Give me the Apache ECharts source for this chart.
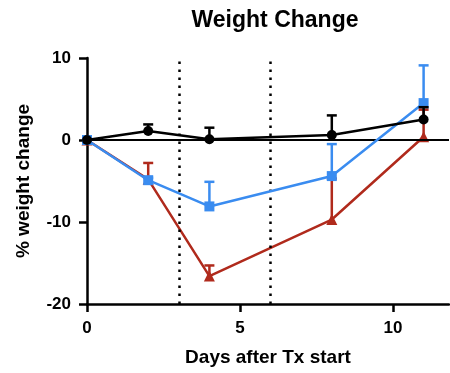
<!DOCTYPE html>
<html><head><meta charset="utf-8">
<script src="https://cdn.jsdelivr.net/npm/echarts@6/dist/echarts.min.js"></script>
<style>html,body{margin:0;padding:0;background:#fff}#c{width:450px;height:373px}</style>
</head><body><div id="c"></div>
<script>
var days = [0, 2, 4, 8, 11];
var blackMean = [0, 1.1, 0.1, 0.6, 2.5];
var blackErr  = [0, 0.8, 1.4, 2.4, 1.5];
var blueMean  = [0, -4.9, -8.1, -4.4, 4.5];
var blueErr   = [0, 0.3, 3.0, 3.9, 4.6];
var redMean   = [0, -4.8, -16.6, -9.7, 0.4];
var redErr    = [0, 2.0, 1.3, 5.0, 3.3];
var xTicks = [0, 5, 10];
var yTicks = [-20, -10, 0, 10];
var markerDays = [3, 6];

var BLACK = '#000000', BLUE = '#3a8cf0', RED = '#b02a1c';
var FONT = '"Liberation Sans", Arial, sans-serif';

function pts(m) { return days.map(function (d, i) { return [d, m[i]]; }); }
function errData(m, e) { return days.map(function (d, i) { return [d, m[i], m[i] + e[i]]; }); }
function errSeries(m, e, color, z) {
  return {
    type: 'custom', z: z, silent: true,
    data: errData(m, e),
    encode: { x: 0, y: [1, 2] },
    renderItem: function (params, api) {
      if (api.value(2) === api.value(1)) return null;
      var p0 = api.coord([api.value(0), api.value(1)]);
      var p1 = api.coord([api.value(0), api.value(2)]);
      var st = { stroke: color, lineWidth: 2.5 };
      return { type: 'group', children: [
        { type: 'line', shape: { x1: p0[0], y1: p0[1], x2: p1[0], y2: p1[1] }, style: st },
        { type: 'line', shape: { x1: p1[0] - 5, y1: p1[1], x2: p1[0] + 5, y2: p1[1] }, style: st }
      ]};
    }
  };
}
function lineSeries(m, color, symbol, size, z) {
  return {
    type: 'line', z: z, data: pts(m), symbol: symbol, symbolSize: size,
    lineStyle: { color: color, width: 2.5 }, itemStyle: { color: color, borderWidth: 0 },
    showSymbol: true, animation: false
  };
}

var chart = echarts.init(document.getElementById('c'), null, { renderer: 'canvas' });
chart.setOption({
  animation: false,
  title: { text: 'Weight Change', left: 270, top: 4, textAlign: 'center',
    textStyle: { fontFamily: FONT, fontWeight: 'bold', fontSize: 23, color: '#000' } },
  grid: { left: 87, top: 58, right: 1, bottom: 69 },
  xAxis: {
    type: 'value', min: 0, max: 11.83, interval: 5,
    name: 'Days after Tx start', nameLocation: 'middle', nameGap: 44,
    nameTextStyle: { fontFamily: FONT, fontWeight: 'bold', fontSize: 19, color: '#000' },
    axisLine: { show: true, onZero: false, lineStyle: { color: '#000', width: 2.5 } },
    axisTick: { show: true, length: 8, lineStyle: { color: '#000', width: 2.5 }, customValues: xTicks },
    axisLabel: { fontFamily: FONT, fontWeight: 'bold', fontSize: 17, color: '#000', margin: 16, customValues: xTicks },
    splitLine: { show: false }
  },
  yAxis: {
    type: 'value', min: -20, max: 10, interval: 10,
    name: '% weight change', nameLocation: 'middle', nameGap: 54,
    nameTextStyle: { fontFamily: FONT, fontWeight: 'bold', fontSize: 19, color: '#000' },
    axisLine: { show: true, onZero: false, lineStyle: { color: '#000', width: 2.5 } },
    axisTick: { show: true, length: 8, lineStyle: { color: '#000', width: 2.5 }, customValues: yTicks },
    axisLabel: { fontFamily: FONT, fontWeight: 'bold', fontSize: 17, color: '#000', margin: 16, customValues: yTicks },
    splitLine: { show: false }
  },
  series: [
    {
      type: 'line', data: [], z: 1, silent: true,
      markLine: {
        silent: true, symbol: ['none', 'none'], animation: false,
        label: { show: false },
        data: markerDays.map(function (d) {
          return { xAxis: d, lineStyle: { color: '#000', width: 2.5, type: [2.5, 5.5] } };
        }).concat([{ yAxis: 0, lineStyle: { color: '#000', width: 2, type: 'solid' } }])
      }
    },
    errSeries(redMean, redErr, RED, 2),
    lineSeries(redMean, RED, 'triangle', 11, 3),
    errSeries(blueMean, blueErr, BLUE, 4),
    lineSeries(blueMean, BLUE, 'rect', 10, 5),
    errSeries(blackMean, blackErr, BLACK, 6),
    lineSeries(blackMean, BLACK, 'circle', 10, 7)
  ]
});
</script></body></html>
